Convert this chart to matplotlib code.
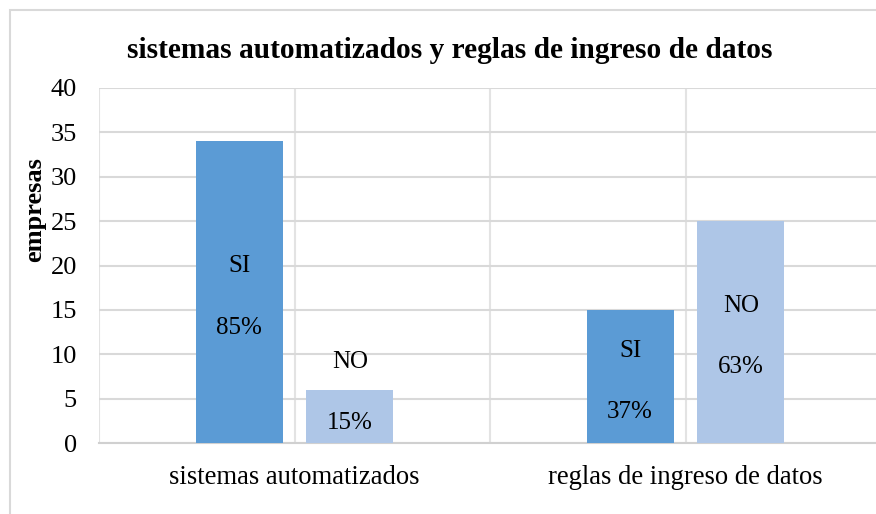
import numpy as np
import matplotlib.pyplot as plt
from matplotlib.patches import Rectangle

categories = ['sistemas automatizados', 'reglas de ingreso de datos']
series_names = ['SI', 'NO']
si_values = [34, 15]
no_values = [6, 25]
si_pct = ['85%', '37%']
no_pct = ['15%', '63%']
yticks = [0, 5, 10, 15, 20, 25, 30, 35, 40]


def main():
    plt.rcParams['font.family'] = ['Liberation Serif', 'DejaVu Serif']
    fig = plt.figure(figsize=(8.76, 5.14), dpi=100)
    ax = fig.add_axes([99 / 876, 1 - 443 / 514, 782 / 876, 355 / 514])

    x = np.arange(len(categories))
    width = 0.222
    offset = 0.1416
    colors = ['#5B9BD5', '#AEC6E7']
    series = [(si_values, si_pct), (no_values, no_pct)]

    for k, (vals, pcts) in enumerate(series):
        pos = x + (-offset if k == 0 else offset)
        ax.bar(pos, vals, width, color=colors[k], zorder=3)
        for p, v, pct in zip(pos, vals, pcts):
            c = max(v / 2, 6.25)
            ax.annotate(series_names[k], (p, c), xytext=(0, 18.5), textcoords='offset points',
                        ha='center', va='center', fontsize=18, zorder=4)
            ax.annotate(pct, (p, c), xytext=(0, -25.5), textcoords='offset points',
                        ha='center', va='center', fontsize=18, zorder=4)

    ax.set_xlim(-0.5, 1.5)
    ax.set_ylim(0, 40)
    ax.set_yticks(yticks)
    ax.set_xticks(x)
    ax.set_xticklabels(categories)
    ax.set_xticks(np.arange(-0.5, 1.6, 0.5), minor=True)
    ax.tick_params(axis='y', length=0, pad=16, labelsize=19)
    ax.tick_params(axis='x', which='both', length=0, pad=15.5, labelsize=19.2)
    ax.grid(axis='y', color='#D9D9D9', linewidth=1.5, zorder=0)
    ax.grid(axis='x', which='minor', color='#E3E3E3', linewidth=1.5, zorder=0)
    ax.grid(axis='x', which='major', color='#E3E3E3', linewidth=1.5, zorder=0)
    for s in ['top', 'right', 'left']:
        ax.spines[s].set_visible(False)
    ax.spines['bottom'].set_color('#D0D0D0')
    ax.spines['bottom'].set_linewidth(1.5)

    ax.set_ylabel('empresas', fontsize=19, fontweight='bold')
    ax.yaxis.set_label_coords(-(99 - 46) / 782, (443 - 210) / 355)

    fig.text(450 / 876, 1 - 50 / 514, 'sistemas automatizados y reglas de ingreso de datos',
             ha='center', va='center', fontsize=21.2, fontweight='bold')

    fig.patches.append(Rectangle((10 / 876, -0.1), 1.2, 1 - 10 / 514 + 0.1, transform=fig.transFigure,
                                 fill=False, edgecolor='#D9D9D9', linewidth=1.5))

    fig.savefig('out.png', dpi=100, facecolor='white')


if __name__ == "__main__":
    main()
